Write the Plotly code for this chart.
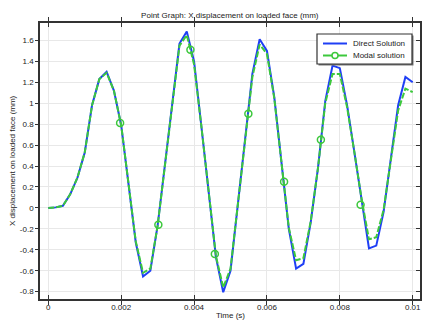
import plotly.graph_objects as go

# Time (s), step 0.0002
time_s = [i * 0.0002 for i in range(51)]

direct = [0, 0.005, 0.02, 0.13, 0.29, 0.53, 0.98, 1.23, 1.30, 1.12,
          0.79, 0.22, -0.33, -0.655, -0.60, -0.17, 0.42, 1.00, 1.57, 1.685,
          1.40, 0.78, 0.15, -0.47, -0.805, -0.60, 0.03, 0.65, 1.28, 1.61,
          1.50, 1.06, 0.45, -0.20, -0.58, -0.535, -0.14, 0.38, 1.02, 1.36,
          1.335, 0.98, 0.53, 0.07, -0.386, -0.36, -0.04, 0.47, 0.98, 1.25,
          1.20]

modal = [0, 0.005, 0.02, 0.13, 0.29, 0.53, 0.98, 1.23, 1.29, 1.12,
         0.79, 0.22, -0.32, -0.62, -0.58, -0.17, 0.42, 0.99, 1.55, 1.65,
         1.37, 0.78, 0.15, -0.46, -0.76, -0.58, 0.03, 0.65, 1.25, 1.56,
         1.47, 1.05, 0.45, -0.19, -0.50, -0.48, -0.13, 0.38, 1.00, 1.28,
         1.28, 0.96, 0.53, 0.08, -0.30, -0.28, -0.02, 0.46, 0.93, 1.14,
         1.105]

# Marker positions on the modal curve
marker_t = [0.00197, 0.00302, 0.0039, 0.00457, 0.00549, 0.00647, 0.00748, 0.00857]
marker_v = [0.81, -0.16, 1.51, -0.44, 0.90, 0.25, 0.65, 0.03]

series_names = ["Direct Solution", "Modal solution"]

x_ticks = [0, 0.002, 0.004, 0.006, 0.008, 0.01]
x_tick_labels = ["0", "0.002", "0.004", "0.006", "0.008", "0.01"]
y_ticks = [-0.8, -0.6, -0.4, -0.2, 0, 0.2, 0.4, 0.6, 0.8, 1, 1.2, 1.4, 1.6]
y_tick_labels = ["-0.8", "-0.6", "-0.4", "-0.2", "0", "0.2", "0.4", "0.6", "0.8", "1", "1.2", "1.4", "1.6"]

BLUE = "#1f3ff5"
GREEN = "#3cc83c"
FONT = "Liberation Sans, Arial, sans-serif"

W, H = 432, 323
ML, MR, MT, MB = 40, 12, 23, 24
PW, PH = W - ML - MR, H - MT - MB


def px(xp):
    return (xp - ML) / PW


def py(yp):
    return (H - MB - yp) / PH


fig = go.Figure()
fig.add_trace(go.Scatter(x=time_s, y=direct, mode="lines", name=series_names[0],
                         line=dict(color=BLUE, width=2)))
fig.add_trace(go.Scatter(x=time_s, y=modal, mode="lines", name=series_names[1],
                         line=dict(color=GREEN, width=2, dash="6px,2px")))
fig.add_trace(go.Scatter(x=marker_t, y=marker_v, mode="markers",
                         marker=dict(symbol="circle-open", size=7, color=GREEN,
                                     line=dict(width=1.5, color=GREEN))))
# invisible trace to host right-side ticks
fig.add_trace(go.Scatter(x=[None], y=[None], yaxis="y2", hoverinfo="skip"))

# Custom compact legend
shapes = []
annotations = []
shapes.append(dict(type="rect", xref="paper", yref="paper",
                   x0=px(318.5), x1=px(413.5), y0=py(65.5), y1=py(35.5),
                   line=dict(width=0), fillcolor="#777", layer="above"))
shapes.append(dict(type="rect", xref="paper", yref="paper",
                   x0=px(317), x1=px(412), y0=py(64), y1=py(34),
                   line=dict(width=1.2, color="#333"), fillcolor="white", layer="above"))
rows = [43.5, 55.5]
colors = [BLUE, GREEN]
for i, name in enumerate(series_names):
    shapes.append(dict(type="line", xref="paper", yref="paper",
                       x0=px(323), x1=px(347), y0=py(rows[i]), y1=py(rows[i]),
                       line=dict(width=2, color=colors[i]), layer="above"))
    annotations.append(dict(text=name, xref="paper", yref="paper",
                            x=px(351), y=py(rows[i]), xanchor="left", yanchor="middle",
                            showarrow=False, font=dict(size=8, color="#222")))
shapes.append(dict(type="circle", xref="paper", yref="paper",
                   x0=px(332), x1=px(338), y0=py(rows[1] + 3), y1=py(rows[1] - 3),
                   line=dict(width=1.5, color=GREEN), fillcolor="white", layer="above"))

# Axis titles as annotations at the reference positions
annotations.append(dict(text="Time (s)", xref="paper", yref="paper",
                        x=px(230), y=py(315), xanchor="center", yanchor="middle",
                        showarrow=False, font=dict(size=8, color="#222")))
annotations.append(dict(text="X displacement on loaded face (mm)", xref="paper", yref="paper",
                        x=px(12), y=py(161), xanchor="center", yanchor="middle", textangle=-90,
                        showarrow=False, font=dict(size=8, color="#222")))

fig.update_layout(
    width=W, height=H,
    margin=dict(l=ML, r=MR, t=MT, b=MB),
    paper_bgcolor="white", plot_bgcolor="white",
    font=dict(family=FONT, size=8, color="#222"),
    title=dict(text="Point Graph: X displacement on loaded face (mm)",
               x=0.532, xanchor="center", y=1 - 15.5 / 323, yanchor="middle",
               yref="container", font=dict(size=8, color="#222")),
    showlegend=False,
    shapes=shapes,
    annotations=annotations,
    xaxis=dict(range=[-0.000228, 0.0102], tickvals=x_ticks, ticktext=x_tick_labels,
               showgrid=True, gridcolor="#e8e8e8", gridwidth=1, zeroline=False,
               showline=True, linecolor="#333", linewidth=1.5, mirror="allticks",
               ticks="inside", ticklen=4, tickcolor="#333", automargin=False),
    yaxis=dict(range=[-0.87, 1.766], tickvals=y_ticks, ticktext=y_tick_labels,
               showgrid=True, gridcolor="#e8e8e8", gridwidth=1, zeroline=False,
               showline=True, linecolor="#333", linewidth=1.5, mirror=True,
               ticks="outside", ticklen=3, tickcolor="#333", automargin=False),
    yaxis2=dict(overlaying="y", side="right", matches="y", tickvals=y_ticks,
                showticklabels=False, showgrid=False, zeroline=False,
                ticks="inside", ticklen=4, tickcolor="#333", showline=False,
                automargin=False),
)

fig.write_html("out.html")
